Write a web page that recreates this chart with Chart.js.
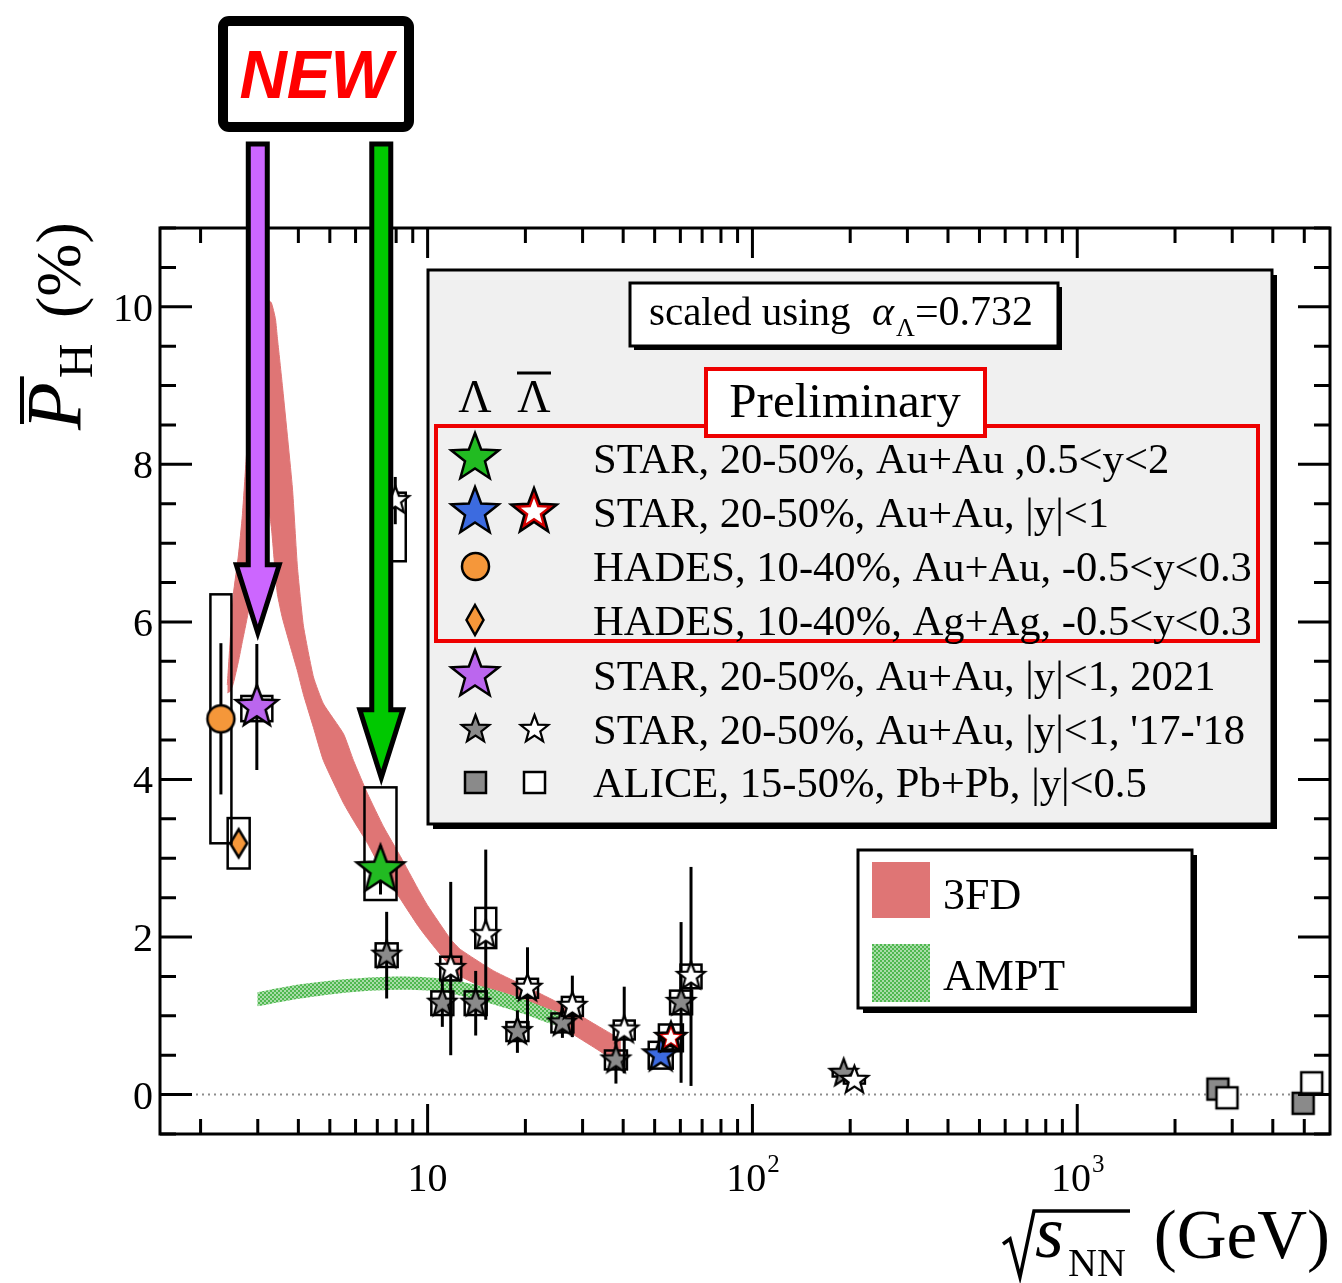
<!DOCTYPE html>
<html>
<head>
<meta charset="utf-8">
<script src="https://cdn.jsdelivr.net/npm/chart.js@4.4.1/dist/chart.umd.min.js"></script>
<style>
  html, body { margin: 0; padding: 0; background: #ffffff; }
  #wrap { width: 1342px; height: 1283px; position: relative; }
  canvas { display: block; }
</style>
</head>
<body>
<div id="wrap"><canvas id="chart" width="1342" height="1283"></canvas></div>
<script>
// ---------------- data: sqrt(s_NN) [GeV] and mean hyperon polarisation [%] ----------------

// 3FD model band: energy, lower edge, upper edge
const fdEnergy = [2.417, 2.47, 2.523, 2.616, 2.689, 2.767, 2.887, 3.055, 3.187, 3.303,
                  3.399, 3.448, 3.572, 3.835, 3.973, 4.146, 4.452, 4.778, 5.508, 5.913,
                  6.531, 7.316, 8.255, 9.316, 10.0, 11.78, 12.64, 15.98, 20.34, 25.71,
                  32.5, 39.36];
const fdLow    = [5.10, 5.12, 5.22, 5.50, 5.75, 6.0, 6.4, 7.1, 7.6, 7.2,
                  6.6, 6.35, 6.05, 5.6, 5.38, 5.08, 4.66, 4.24, 3.7, 3.48,
                  3.19, 2.81, 2.48, 2.15, 1.98, 1.62, 1.50, 1.30, 1.08, 0.86,
                  0.60, 0.38];
const fdHigh   = [5.20, 5.80, 6.35, 6.85, 7.35, 8.1, 9.1, 9.85, 10.1, 10.05,
                  9.85, 9.6, 9.0, 7.7, 6.7, 5.95, 5.3, 4.96, 4.58, 4.24,
                  3.82, 3.40, 3.02, 2.62, 2.40, 1.97, 1.84, 1.57, 1.36, 1.15,
                  0.90, 0.70];

// AMPT model band
const amptEnergy = [2.99, 4.06, 5.79, 8.26, 11.2, 14.88, 18.95, 23.95, 25.7];
const amptLow    = [1.12, 1.22, 1.30, 1.33, 1.30, 1.18, 1.05, 0.90, 0.86];
const amptHigh   = [1.30, 1.40, 1.47, 1.50, 1.47, 1.37, 1.24, 1.08, 1.04];

// STAR 20-50% Au+Au, 0.5<y<2 (Lambda, fixed target)
const starFxtEnergy = [7.16];
const starFxtPol    = [2.85];
const starFxtStat   = [0.31];
const starFxtSysDn  = [0.38];
const starFxtSysUp  = [1.05];

// STAR 20-50% Au+Au, |y|<1 (Lambda / anti-Lambda)
const star54LamEnergy  = [52.2];
const star54LamPol     = [0.50];
const star54LamStat    = [0.08];
const star54LamSys     = [0.17];
const star54AntiEnergy = [56.1];
const star54AntiPol    = [0.72];
const star54AntiStat   = [0.12];
const star54AntiSys    = [0.17];

// HADES 10-40% Au+Au and Ag+Ag, -0.5<y<0.3
const hadesAuEnergy = [2.31];
const hadesAuPol    = [4.77];
const hadesAuStat   = [0.96];
const hadesAuSys    = [1.58];
const hadesAgEnergy = [2.62];
const hadesAgPol    = [3.19];
const hadesAgStat   = [0.10];
const hadesAgSys    = [0.32];

// STAR 20-50% Au+Au, |y|<1, 2021
const star3Energy = [2.98];
const star3Pol    = [4.92];
const star3Stat   = [0.80];
const star3SysDn  = [0.18];
const star3SysUp  = [0.14];

// STAR 20-50% Au+Au, |y|<1, '17-'18 (Lambda / anti-Lambda)
const besLamEnergy  = [7.48, 11.1, 14.06, 18.9, 26.0, 38.0, 60.3, 191];
const besLamPol     = [1.77, 1.16, 1.16, 0.80, 0.91, 0.44, 1.17, 0.27];
const besLamStat    = [0.55, 0.30, 0.41, 0.27, 0.19, 0.30, 1.02, 0.05];
const besLamSys     = [0.15, 0.15, 0.15, 0.12, 0.12, 0.12, 0.15, 0.04];
const besAntiEnergy = [7.95, 11.78, 15.1, 20.3, 27.9, 40.3, 64.7, 206];
const besAntiPol    = [7.54, 1.60, 2.03, 1.35, 1.12, 0.82, 1.50, 0.18];
const besAntiStat   = [0.30, 1.10, 1.08, 0.52, 0.39, 0.55, 1.39, 0.06];
const besAntiSysDn  = [0.77, 0.15, 0.17, 0.12, 0.12, 0.12, 0.15, 0.04];
const besAntiSysUp  = [0.10, 0.15, 0.34, 0.12, 0.12, 0.12, 0.15, 0.04];

// ALICE 15-50% Pb+Pb, |y|<0.5 (Lambda / anti-Lambda)
const aliceLamEnergy  = [2710, 4960];
const aliceLamPol     = [0.07, -0.11];
const aliceAntiEnergy = [2890, 5270];
const aliceAntiPol    = [-0.04, 0.15];
const aliceStat       = [0.08, 0.08];

// axis ticks
const xMajorTicks = [10, 100, 1000];
const xMinorTicks = [2, 3, 4, 5, 6, 7, 8, 9, 20, 30, 40, 50, 60, 70, 80, 90,
                     200, 300, 400, 500, 600, 700, 800, 900, 2000, 3000, 4000, 5000];
const xTickLabels = [['10', ''], ['10', '2'], ['10', '3']];
const yMajorTicks = [0, 2, 4, 6, 8, 10];
const yMinorTicks = [-0.5, 0.5, 1, 1.5, 2.5, 3, 3.5, 4.5, 5, 5.5, 6.5, 7, 7.5, 8.5, 9, 9.5, 10.5, 11];

// "NEW" arrows point at these (energy, polarisation) positions
const arrowTargets = [
  { x: 3.0, y: 5.76, color: '#cc66ff' },
  { x: 7.2, y: 3.92, color: '#00c800' }
];

// ---------------- styles ----------------
const SERIF = '"Liberation Serif", "DejaVu Serif", serif';
const C3FD = '#df7575';
const ORANGE = '#f5973a';
const GREY = '#8a8a8a';

function makeCanvas(size, draw) {
  const c = document.createElement('canvas');
  c.width = c.height = size;
  const g = c.getContext('2d');
  g.translate(size / 2, size / 2);
  draw(g);
  return c;
}
function starPath(g, R, r) {
  g.beginPath();
  for (let k = 0; k < 10; k++) {
    const a = -Math.PI / 2 + k * Math.PI / 5;
    const rad = k % 2 ? r : R;
    g.lineTo(rad * Math.cos(a), rad * Math.sin(a));
  }
  g.closePath();
}
function starMarker(R, fill, lw, innerWhite) {
  return makeCanvas(Math.ceil(2 * R + 8 * lw + 6), g => {
    starPath(g, R, R * 0.42);
    g.fillStyle = fill; g.fill();
    g.lineJoin = 'miter'; g.miterLimit = 10;
    g.lineWidth = lw; g.strokeStyle = '#000'; g.stroke();
    if (innerWhite) {
      starPath(g, R * 0.58, R * 0.58 * 0.42);
      g.fillStyle = '#ffffff'; g.fill();
    }
  });
}
function circleMarker(r, fill) {
  return makeCanvas(Math.ceil(2 * r + 8), g => {
    g.beginPath(); g.arc(0, 0, r, 0, Math.PI * 2);
    g.fillStyle = fill; g.fill();
    g.lineWidth = 2.5; g.strokeStyle = '#000'; g.stroke();
  });
}
function diamondMarker(hw, hh, fill) {
  return makeCanvas(Math.ceil(2 * hh + 10), g => {
    g.beginPath(); g.moveTo(0, -hh); g.lineTo(hw, 0); g.lineTo(0, hh); g.lineTo(-hw, 0); g.closePath();
    g.fillStyle = fill; g.fill();
    g.lineJoin = 'miter'; g.lineWidth = 2.5; g.strokeStyle = '#000'; g.stroke();
  });
}
function squareMarker(half, fill) {
  return makeCanvas(Math.ceil(2 * half + 8), g => {
    g.fillStyle = fill; g.fillRect(-half, -half, 2 * half, 2 * half);
    g.lineWidth = 2.5; g.strokeStyle = '#000'; g.strokeRect(-half, -half, 2 * half, 2 * half);
  });
}

// markers in the plot
const mkGreen  = starMarker(25, '#22bb22', 2.5);
const mkPurple = starMarker(22, '#bb66ee', 2.5);
const mkBlue   = starMarker(18, '#3c6be0', 2.5);
const mkRed    = starMarker(16, '#d40000', 2.5, true);
const mkGrey   = starMarker(14.5, GREY, 2.2);
const mkWhite  = starMarker(14.5, '#ffffff', 2.2);
const mkCircle = circleMarker(13.5, ORANGE);
const mkDiam   = diamondMarker(8.5, 14, ORANGE);
const mkSqGrey = squareMarker(10.5, GREY);
const mkSqWhite= squareMarker(10.5, '#ffffff');
// markers in the legend
const lgGreen  = starMarker(25, '#22bb22', 2.5);
const lgBlue   = starMarker(25, '#3c6be0', 2.5);
const lgRed    = starMarker(24, '#d40000', 2.5, true);
const lgPurple = starMarker(25, '#bb66ee', 2.5);

// green checkered fill for the AMPT band
function checkerPattern() {
  const t = document.createElement('canvas');
  t.width = t.height = 4;
  const g = t.getContext('2d');
  g.fillStyle = '#a8dca8'; g.fillRect(0, 0, 4, 4);
  g.fillStyle = '#4fb84f'; g.fillRect(0, 0, 2, 2); g.fillRect(2, 2, 2, 2);
  return document.getElementById('chart').getContext('2d').createPattern(t, 'repeat');
}
const AMPT_FILL = checkerPattern();

const pts = (xs, ys) => xs.map((x, i) => ({ x: x, y: ys[i] }));

function markerSet(label, xs, ys, img, extra) {
  return Object.assign({
    label: label, data: pts(xs, ys), showLine: false,
    pointStyle: img, pointRadius: 6, pointHoverRadius: 6, order: 0
  }, extra || {});
}

// ---------------- plot decorations ----------------
function drawErrors(chart, ds) {
  const xs = chart.scales.x, ys = chart.scales.y, ctx = chart.ctx;
  ctx.save();
  ctx.strokeStyle = '#000';
  ds.data.forEach((p, i) => {
    const px = xs.getPixelForValue(p.x);
    if (ds.sysUp) {
      const top = ys.getPixelForValue(p.y + ds.sysUp[i]);
      const bot = ys.getPixelForValue(p.y - ds.sysDn[i]);
      ctx.lineWidth = 2.5;
      ctx.strokeRect(px - ds.boxHalf, top, 2 * ds.boxHalf, bot - top);
    }
    if (ds.stat) {
      ctx.lineWidth = 3;
      ctx.beginPath();
      ctx.moveTo(px, ys.getPixelForValue(p.y + ds.stat[i]));
      ctx.lineTo(px, ys.getPixelForValue(p.y - ds.stat[i]));
      ctx.stroke();
    }
  });
  ctx.restore();
}

function boxWithShadow(ctx, x, y, w, h, sh, fill, lw) {
  ctx.fillStyle = '#000';
  ctx.fillRect(x + sh, y + sh, w, h);
  ctx.fillStyle = fill;
  ctx.fillRect(x, y, w, h);
  ctx.lineWidth = lw; ctx.strokeStyle = '#000';
  ctx.strokeRect(x, y, w, h);
}

function drawImg(ctx, img, cx, cy) {
  ctx.drawImage(img, Math.round(cx - img.width / 2), Math.round(cy - img.height / 2));
}

function drawArrow(ctx, xs, ys, t) {
  const cx = xs.getPixelForValue(t.x);
  const tip = ys.getPixelForValue(t.y) - 8;
  const sw = 9.5, hw = 21.5, hl = 68, top = 144;
  ctx.beginPath();
  ctx.moveTo(cx - sw, top);
  ctx.lineTo(cx - sw, tip - hl);
  ctx.lineTo(cx - hw, tip - hl);
  ctx.lineTo(cx, tip);
  ctx.lineTo(cx + hw, tip - hl);
  ctx.lineTo(cx + sw, tip - hl);
  ctx.lineTo(cx + sw, top);
  ctx.closePath();
  ctx.fillStyle = t.color; ctx.fill();
  ctx.lineJoin = 'miter'; ctx.miterLimit = 10;
  ctx.lineWidth = 5; ctx.strokeStyle = '#000'; ctx.stroke();
}

const decor = {
  id: 'decor',
  beforeDatasetsDraw(chart) {
    const ctx = chart.ctx, a = chart.chartArea, y0 = chart.scales.y.getPixelForValue(0);
    ctx.save();
    ctx.strokeStyle = '#8c8c8c'; ctx.lineWidth = 2; ctx.setLineDash([2, 4]);
    ctx.beginPath(); ctx.moveTo(a.left, y0); ctx.lineTo(a.right, y0); ctx.stroke();
    ctx.restore();
  },
  beforeDatasetDraw(chart, args) {
    const ds = chart.data.datasets[args.index];
    if (ds.stat || ds.sysUp) drawErrors(chart, ds);
  },
  afterDraw(chart) {
    const ctx = chart.ctx, a = chart.chartArea;
    const xs = chart.scales.x, ys = chart.scales.y;
    ctx.save();

    // frame and ticks on all four sides
    ctx.strokeStyle = '#000'; ctx.lineWidth = 3; ctx.lineCap = 'butt';
    ctx.strokeRect(a.left, a.top, a.right - a.left, a.bottom - a.top);
    const xTick = (v, len) => {
      const px = xs.getPixelForValue(v);
      ctx.beginPath();
      ctx.moveTo(px, a.bottom); ctx.lineTo(px, a.bottom - len);
      ctx.moveTo(px, a.top); ctx.lineTo(px, a.top + len);
      ctx.stroke();
    };
    const yTick = (v, len) => {
      const py = ys.getPixelForValue(v);
      ctx.beginPath();
      ctx.moveTo(a.left, py); ctx.lineTo(a.left + len, py);
      ctx.moveTo(a.right, py); ctx.lineTo(a.right - len, py);
      ctx.stroke();
    };
    xMinorTicks.forEach(v => xTick(v, 15));
    xMajorTicks.forEach(v => xTick(v, 30));
    yMinorTicks.forEach(v => yTick(v, 16));
    yMajorTicks.forEach(v => yTick(v, 32));

    // tick labels
    ctx.fillStyle = '#000';
    ctx.textBaseline = 'alphabetic';
    ctx.font = '40px ' + SERIF;
    ctx.textAlign = 'right';
    yMajorTicks.forEach(v => ctx.fillText(String(v), a.left - 7, ys.getPixelForValue(v) + 14));
    ctx.textAlign = 'left';
    xMajorTicks.forEach((v, i) => {
      const [base, sup] = xTickLabels[i];
      ctx.font = '40px ' + SERIF;
      const wb = ctx.measureText(base).width;
      ctx.font = '25px ' + SERIF;
      const ws = sup ? ctx.measureText(sup).width : 0;
      const x0 = xs.getPixelForValue(v) - (wb + ws) / 2;
      ctx.font = '40px ' + SERIF;
      ctx.fillText(base, x0, 1191);
      if (sup) { ctx.font = '25px ' + SERIF; ctx.fillText(sup, x0 + wb + 1, 1172); }
    });

    // y-axis title: P-bar_H (%)
    ctx.save();
    ctx.translate(80, 430);
    ctx.rotate(-Math.PI / 2);
    ctx.font = 'italic 78px ' + SERIF;
    const wP = ctx.measureText('P').width;
    ctx.fillText('P', 0, 0);
    ctx.lineWidth = 4;
    ctx.beginPath(); ctx.moveTo(6, -58); ctx.lineTo(wP + 6, -58); ctx.stroke();
    ctx.font = '48px ' + SERIF;
    ctx.fillText('H', wP + 4, 12);
    ctx.font = '64px ' + SERIF;
    ctx.fillText('(%)', 112, 0);
    ctx.restore();

    // x-axis title: sqrt(s_NN) (GeV)
    ctx.lineWidth = 3.5; ctx.lineJoin = 'miter';
    ctx.beginPath();
    ctx.moveTo(1003, 1244); ctx.lineTo(1010, 1239); ctx.lineTo(1020, 1277);
    ctx.lineTo(1034, 1211); ctx.lineTo(1130, 1211);
    ctx.stroke();
    ctx.font = 'italic 74px ' + SERIF;
    ctx.fillText('s', 1035, 1257);
    ctx.font = '40px ' + SERIF;
    ctx.fillText('NN', 1068, 1276);
    ctx.font = '69px ' + SERIF;
    ctx.textAlign = 'right';
    ctx.fillText('(GeV)', 1330, 1258);
    ctx.textAlign = 'left';

    // main legend panel
    boxWithShadow(ctx, 428, 270, 844, 554, 5, '#f0f0f0', 3);
    boxWithShadow(ctx, 630, 283, 428, 63, 4, '#ffffff', 3);
    ctx.fillStyle = '#000';
    ctx.font = '41px ' + SERIF;
    ctx.fillText('scaled using', 649, 325);
    let tx = 872;
    ctx.font = 'italic 42px ' + SERIF;
    ctx.fillText('\u03B1', tx, 325);
    tx += ctx.measureText('\u03B1').width + 2;
    ctx.font = '26px ' + SERIF;
    ctx.fillText('\u039B', tx, 336);
    tx += ctx.measureText('\u039B').width;
    ctx.font = '42px ' + SERIF;
    ctx.fillText('=0.732', tx, 325);

    // Lambda / anti-Lambda column headers
    ctx.font = '46px ' + SERIF;
    ctx.textAlign = 'center';
    ctx.fillText('\u039B', 475, 412);
    ctx.fillText('\u039B', 534, 412);
    ctx.lineWidth = 3;
    ctx.beginPath(); ctx.moveTo(517, 373); ctx.lineTo(551, 373); ctx.stroke();

    // preliminary group
    ctx.strokeStyle = '#ee0000'; ctx.lineWidth = 4;
    ctx.strokeRect(436, 426, 822, 215);
    ctx.fillStyle = '#ffffff';
    ctx.fillRect(706, 369, 279, 67);
    ctx.strokeRect(706, 369, 279, 67);
    ctx.fillStyle = '#000';
    ctx.font = '49px ' + SERIF;
    ctx.fillText('Preliminary', 845, 417);
    ctx.textAlign = 'left';

    const rows = [
      { y: 458, m1: lgGreen, m2: null, text: 'STAR, 20-50%, Au+Au ,0.5<y<2' },
      { y: 512, m1: lgBlue, m2: lgRed, text: 'STAR, 20-50%, Au+Au, |y|<1' },
      { y: 566, m1: mkCircle, m2: null, text: 'HADES, 10-40%, Au+Au, -0.5<y<0.3' },
      { y: 620, m1: diamondMarker(8.5, 15, ORANGE), m2: null, text: 'HADES, 10-40%, Ag+Ag, -0.5<y<0.3' },
      { y: 675, m1: lgPurple, m2: null, text: 'STAR, 20-50%, Au+Au, |y|<1, 2021' },
      { y: 729, m1: mkGrey, m2: mkWhite, text: "STAR, 20-50%, Au+Au, |y|<1, '17-'18" },
      { y: 782, m1: mkSqGrey, m2: mkSqWhite, text: 'ALICE, 15-50%, Pb+Pb, |y|<0.5' }
    ];
    ctx.font = '42.6px ' + SERIF;
    rows.forEach(r => {
      drawImg(ctx, r.m1, 475, r.y);
      if (r.m2) drawImg(ctx, r.m2, 534, r.y);
      ctx.fillStyle = '#000';
      ctx.fillText(r.text, 593, r.y + 15);
    });

    // model legend
    boxWithShadow(ctx, 858, 850, 334, 158, 5, '#ffffff', 3);
    ctx.fillStyle = C3FD; ctx.fillRect(872, 862, 58, 56);
    ctx.fillStyle = AMPT_FILL; ctx.fillRect(872, 944, 58, 58);
    ctx.fillStyle = '#000';
    ctx.font = '44px ' + SERIF;
    ctx.fillText('3FD', 943, 909);
    ctx.fillText('AMPT', 943, 990);

    // arrows highlighting the new measurements
    arrowTargets.forEach(t => drawArrow(ctx, xs, ys, t));

    // NEW badge
    ctx.lineJoin = 'round';
    ctx.fillStyle = '#ffffff';
    ctx.beginPath(); ctx.roundRect(223, 21, 186, 106, 6); ctx.fill();
    ctx.lineWidth = 10; ctx.strokeStyle = '#000'; ctx.stroke();
    ctx.font = 'italic bold 68px "Liberation Sans", Arial, sans-serif';
    const wNew = ctx.measureText('NEW').width;
    ctx.save();
    ctx.translate(316, 98);
    ctx.scale(153 / wNew, 1);
    ctx.fillStyle = '#ff0000';
    ctx.textAlign = 'center';
    ctx.fillText('NEW', 0, 0);
    ctx.restore();

    ctx.restore();
  }
};

// ---------------- chart ----------------
const datasets = [
  markerSet('STAR Au+Au 0.5<y<2', starFxtEnergy, starFxtPol, mkGreen,
    { stat: starFxtStat, sysDn: starFxtSysDn, sysUp: starFxtSysUp, boxHalf: 16 }),
  markerSet('STAR Au+Au |y|<1 anti-Lambda', star54AntiEnergy, star54AntiPol, mkRed,
    { stat: star54AntiStat, sysDn: star54AntiSys, sysUp: star54AntiSys, boxHalf: 12 }),
  markerSet('STAR Au+Au |y|<1 Lambda', star54LamEnergy, star54LamPol, mkBlue,
    { stat: star54LamStat, sysDn: star54LamSys, sysUp: star54LamSys, boxHalf: 12 }),
  markerSet('STAR 2021', star3Energy, star3Pol, mkPurple,
    { stat: star3Stat, sysDn: star3SysDn, sysUp: star3SysUp, boxHalf: 15.5 }),
  markerSet('HADES Au+Au', hadesAuEnergy, hadesAuPol, mkCircle,
    { stat: hadesAuStat, sysDn: hadesAuSys, sysUp: hadesAuSys, boxHalf: 10.5 }),
  markerSet('HADES Ag+Ag', hadesAgEnergy, hadesAgPol, mkDiam,
    { stat: hadesAgStat, sysDn: hadesAgSys, sysUp: hadesAgSys, boxHalf: 11 }),
  markerSet("STAR '17-'18 anti-Lambda", besAntiEnergy, besAntiPol, mkWhite,
    { stat: besAntiStat, sysDn: besAntiSysDn, sysUp: besAntiSysUp, boxHalf: 10.5 }),
  markerSet("STAR '17-'18 Lambda", besLamEnergy, besLamPol, mkGrey,
    { stat: besLamStat, sysDn: besLamSys, sysUp: besLamSys, boxHalf: 11 }),
  markerSet('ALICE anti-Lambda', aliceAntiEnergy, aliceAntiPol, mkSqWhite, { stat: aliceStat }),
  markerSet('ALICE Lambda', aliceLamEnergy, aliceLamPol, mkSqGrey, { stat: aliceStat }),
  {
    label: 'AMPT low', data: pts(amptEnergy, amptLow), showLine: true, pointRadius: 0,
    borderColor: 'rgba(0,0,0,0)', borderWidth: 1, fill: false, tension: 0.3, order: 5
  },
  {
    label: 'AMPT', data: pts(amptEnergy, amptHigh), showLine: true, pointRadius: 0,
    borderColor: 'rgba(0,0,0,0)', borderWidth: 1, backgroundColor: AMPT_FILL,
    fill: '-1', tension: 0.3, order: 4
  },
  {
    label: '3FD low', data: pts(fdEnergy, fdLow), showLine: true, pointRadius: 0,
    borderColor: C3FD, borderWidth: 1, fill: false, tension: 0.15, order: 11
  },
  {
    label: '3FD', data: pts(fdEnergy, fdHigh), showLine: true, pointRadius: 0,
    borderColor: C3FD, borderWidth: 1, backgroundColor: C3FD,
    fill: '-1', tension: 0.15, order: 10
  }
];

new Chart(document.getElementById('chart'), {
  type: 'line',
  data: { datasets: datasets },
  options: {
    responsive: false,
    devicePixelRatio: 1,
    animation: false,
    layout: { padding: { left: 160, top: 228, right: 12, bottom: 149 } },
    scales: {
      x: { type: 'logarithmic', min: 1.5, max: 6000, display: false },
      y: { type: 'linear', min: -0.5, max: 11, display: false }
    },
    plugins: {
      legend: { display: false },
      tooltip: { enabled: false }
    },
    events: []
  },
  plugins: [decor]
});
</script>
</body>
</html>
